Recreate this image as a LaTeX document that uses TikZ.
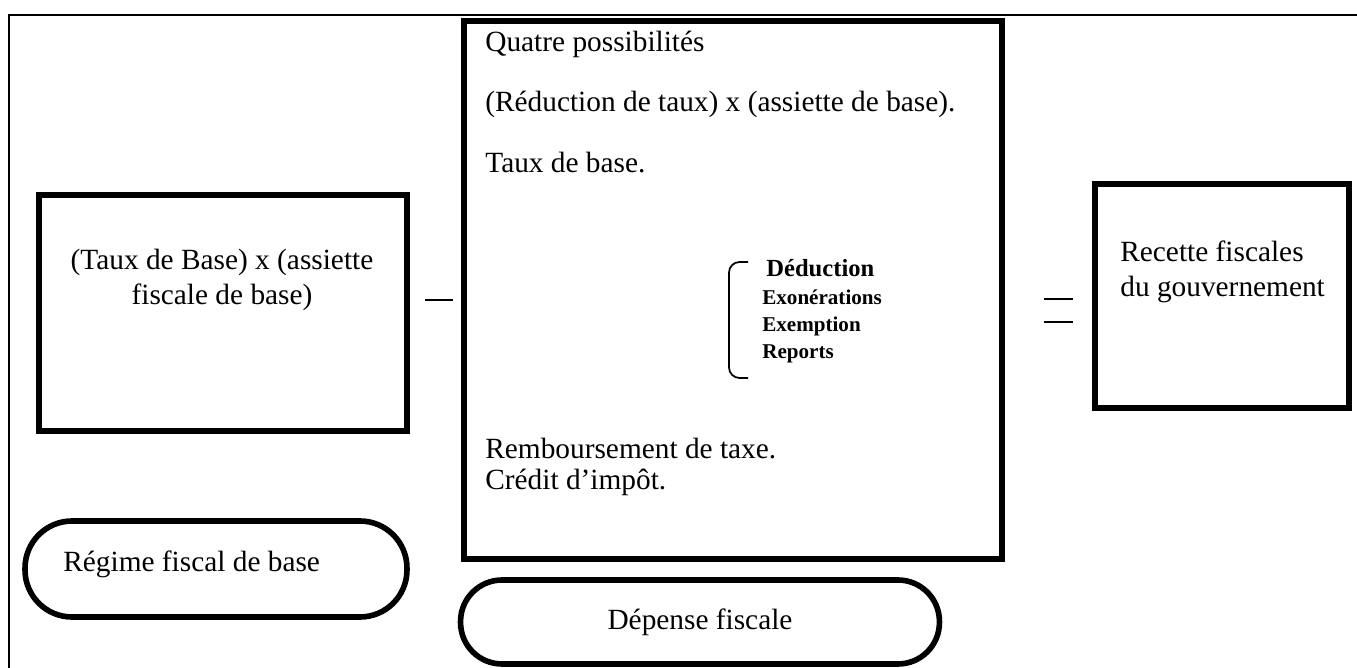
\documentclass[tikz,border=0pt]{standalone}
\usepackage{fontspec}
\setmainfont{Liberation Serif}
\tikzset{
x=0.02cm, y=-0.02cm, % one unit is one pixel of the page
box/.style={draw, line width=3.4pt}, % the three square frames
pill/.style={draw, line width=3.2pt}, % the two rounded labels
txt/.style={inner sep=0pt, font=\fontsize{16.7}{20}\selectfont},
item/.style={inner sep=0pt, anchor=base west, font=\bfseries\fontsize{12}{14}\selectfont},
sign/.style={line width=1.1pt},
}
\begin{document}
\begin{tikzpicture}
\useasboundingbox (0,0) rectangle (1357,668);
\draw[line width=1.2pt] (9,668) -- (9,15) -- (1357,15);

% base regime
\node[box, minimum width=7.36cm, minimum height=4.74cm] (base) at (223,313) {};
\node[txt, align=center] (baset) at (222,280) {(Taux de Base) x (assiette\\fiscale de base)};
\node[pill, minimum width=7.64cm, minimum height=1.92cm, rounded corners=0.94cm] (regime) at (216,569) {};
\node[txt, anchor=base west] (regimet) at (63,572) {Régime fiscal de base};

% tax expenditure
\node[box, minimum width=10.76cm, minimum height=10.76cm] (depense) at (733,290) {};
\node[txt, anchor=base west] (quatre) at (485,52) {Quatre possibilités};
\node[txt, anchor=base west] (reduc) at (485,112) {(Réduction de taux) x (assiette de base).};
\node[txt, anchor=base west] (taux) at (485,173) {Taux de base.};
\node[item, font=\bfseries\fontsize{14}{16}\selectfont] (ded) at (766,277) {Déduction};
\node[item] (exo) at (762,305) {Exonérations};
\node[item] (exe) at (762,332) {Exemption};
\node[item] (rep) at (762,359) {Reports};
\draw[line width=1pt, rounded corners=6pt] (748,262) -| (729,320) |- (748,378);
\node[txt, anchor=base west] (remb) at (485,459) {Remboursement de taxe.};
\node[txt, anchor=base west] (credit) at (485,490) {Crédit d’impôt.};
\node[pill, minimum width=9.58cm, minimum height=1.68cm, rounded corners=0.83cm, txt] (depfisc) at (700,622) {Dépense fiscale};

% government revenue
\node[box, minimum width=5.08cm, minimum height=4.5cm] (recette) at (1222,296) {};
\node[txt, anchor=west, align=left] (recettet) at (1120,272) {Recette fiscales\\du gouvernement};

% minus and equals
\draw[sign] (425,300) -- (453,300);
\draw[sign] (1044,299) -- (1073,299);
\draw[sign] (1044,322) -- (1073,322);
\end{tikzpicture}
\end{document}
